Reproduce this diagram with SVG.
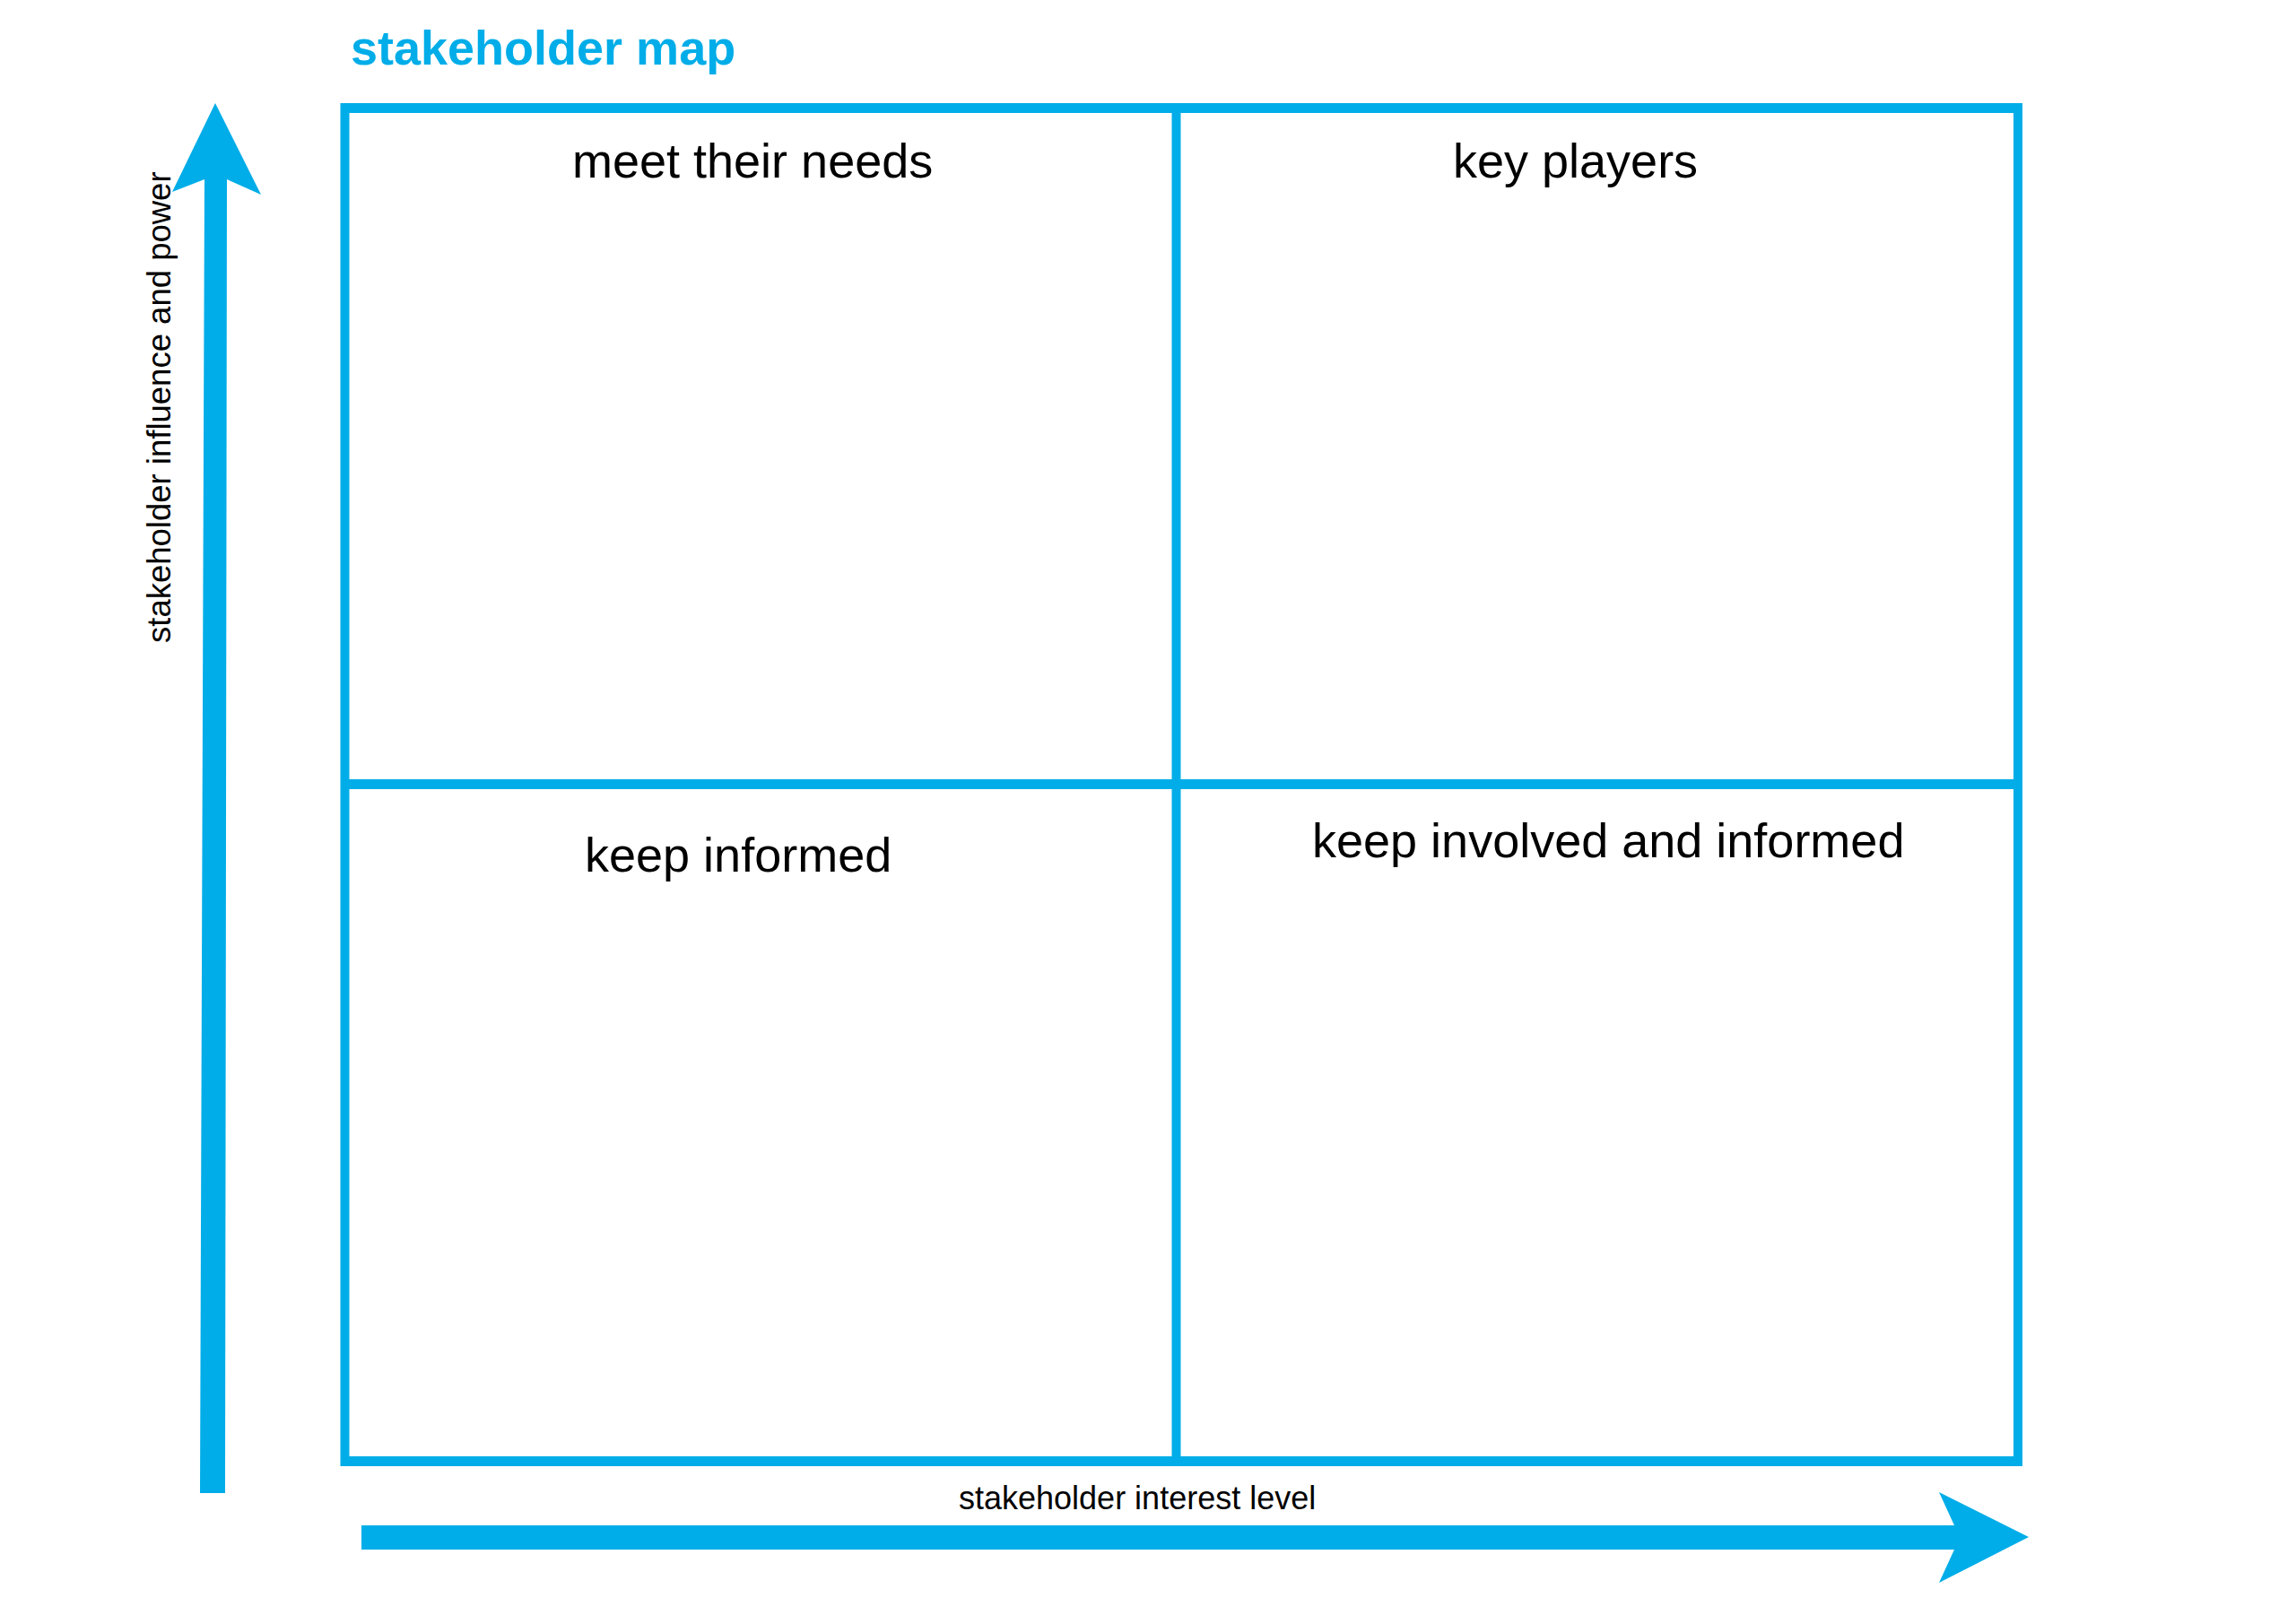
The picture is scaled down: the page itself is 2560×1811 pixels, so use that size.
<svg xmlns="http://www.w3.org/2000/svg" width="2560" height="1811" viewBox="0 0 2560 1811">
<style>
.blue{fill:#00ADE8}
.frame{stroke:#00ADE8;fill:none}
.lbl{font-family:"Liberation Sans",Arial,sans-serif;fill:#000}
.title{font-family:"Liberation Sans",Arial,sans-serif;font-weight:bold;fill:#00ADE8;font-size:54px}
</style>
<rect width="2560" height="1811" fill="#fff"/>
<text class="title" x="391" y="72">stakeholder map</text>
<g id="grid">
<line class="frame" x1="380" y1="120.5" x2="2255" y2="120.5" stroke-width="11"/>
<line class="frame" x1="380" y1="1629.5" x2="2255" y2="1629.5" stroke-width="11"/>
<line class="frame" x1="384.5" y1="115" x2="384.5" y2="1635" stroke-width="10"/>
<line class="frame" x1="2250" y1="115" x2="2250" y2="1635" stroke-width="10"/>
<line class="frame" x1="1311.5" y1="115" x2="1311.5" y2="1635" stroke-width="10"/>
<line class="frame" x1="380" y1="874.5" x2="2255" y2="874.5" stroke-width="11"/>
</g>
<g id="q-meet"><text class="lbl" x="638" y="198" font-size="54">meet their needs</text></g>
<g id="q-key"><text class="lbl" x="1620" y="198" font-size="54">key players</text></g>
<g id="q-inform"><text class="lbl" x="652" y="972" font-size="54">keep informed</text></g>
<g id="q-involve"><text class="lbl" x="1463" y="956" font-size="54">keep involved and informed</text></g>
<g id="connectors">
<polygon class="blue" points="223,1665 251,1665 253,200 291,217 240,115 192,214 228,200"/>
<polygon class="blue" points="403,1701 2179,1701 2162,1664 2262,1714 2162,1765 2179,1728 403,1728"/>
</g>
<g id="axis-labels">
<text class="lbl" font-size="36.5" transform="translate(190,717) rotate(-90)">stakeholder influence and power</text>
<text class="lbl" x="1069" y="1683" font-size="36">stakeholder interest level</text>
</g>
</svg>
